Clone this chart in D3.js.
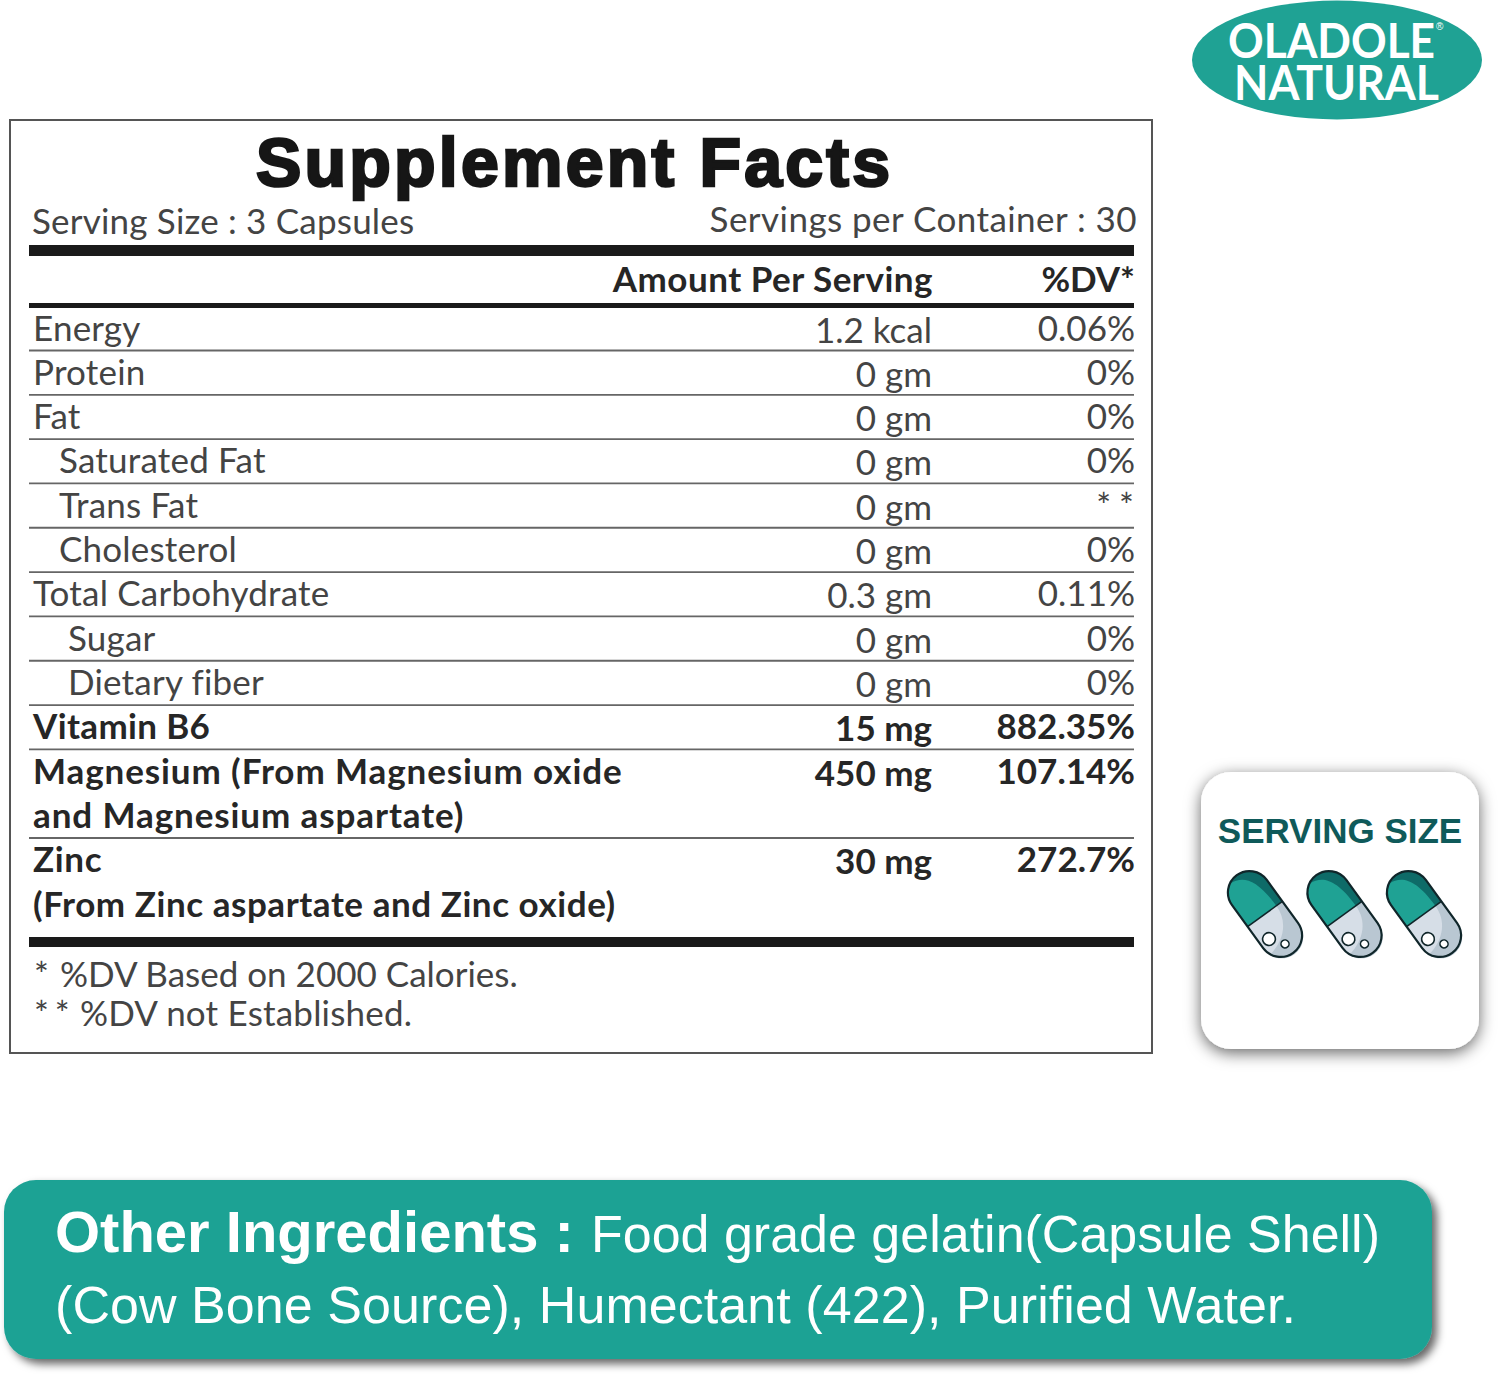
<!DOCTYPE html>
<html>
<head>
<meta charset="utf-8">
<title>Supplement Facts</title>
<script src="https://d3js.org/d3.v7.min.js"></script>
<style>
	html, body { margin: 0; padding: 0; background: #fff; }
	svg { display: block; }
	.label { font-family: Lato, "Open Sans", sans-serif; font-size: 35px; fill: #444; letter-spacing: 0.2px; }
	.strong { font-weight: 700; fill: #262626; letter-spacing: 0.65px; }
	.value { letter-spacing: 0; }
	.arial { font-family: "Liberation Sans", Arial, sans-serif; letter-spacing: 0; }
</style>
</head>
<body>
<div id="chart"></div>
<script>
// table content
var nutrients = ["Energy", "Protein", "Fat", "Saturated Fat", "Trans Fat", "Cholesterol", "Total Carbohydrate", "Sugar", "Dietary fiber", "Vitamin B6", "Magnesium (From Magnesium oxide", "and Magnesium aspartate)", "Zinc", "(From Zinc aspartate and Zinc oxide)"];
var amounts = ["1.2 kcal", "0 gm", "0 gm", "0 gm", "0 gm", "0 gm", "0.3 gm", "0 gm", "0 gm", "15 mg", "450 mg", "", "30 mg", ""];
var dailyValues = ["0.06%", "0%", "0%", "0%", "**", "0%", "0.11%", "0%", "0%", "882.35%", "107.14%", "", "272.7%", ""];
var indents = [0, 0, 0, 1, 1, 1, 0, 2, 2, 0, 0, 0, 0, 0];
var boldFrom = 9;
// a rule is drawn under these lines
var ruledLines = [0, 1, 2, 3, 4, 5, 6, 7, 8, 9, 11];
var footMarks = ["*", "**"];
var footnotes = ["%DV Based on 2000 Calories.", "%DV not Established."];
var capsules = [0, 1, 2];

var teal = "#1fa294";
var width = 1500, height = 1376;

var svg = d3.select("#chart").append("svg")
	.attr("width", width)
	.attr("height", height);

var defs = svg.append("defs");
var addShadow = function(id, dx, dy, blur, opacity) {
	var f = defs.append("filter").attr("id", id)
		.attr("x", "-15%").attr("y", "-15%").attr("width", "130%").attr("height", "130%");
	f.append("feDropShadow")
		.attr("dx", dx).attr("dy", dy)
		.attr("stdDeviation", blur)
		.attr("flood-color", "#000")
		.attr("flood-opacity", opacity);
};
addShadow("cardShadow", 0, 4, 8, 0.6);
addShadow("panelShadow", 5, 5, 4, 0.6);

// line index -> rule position
var lineY = d3.scaleLinear().domain([0, 11]).range([350.5, 838]);
var indentX = d3.scaleLinear().domain([0, 1, 2]).range([33, 59, 68]);

// outer box
svg.append("rect")
	.attr("x", 10).attr("y", 120)
	.attr("width", 1142).attr("height", 933)
	.attr("fill", "#fff")
	.attr("stroke", "#555")
	.attr("stroke-width", 2);

svg.append("text")
	.attr("class", "arial")
	.attr("x", 256).attr("y", 186)
	.attr("textLength", 634)
	.attr("font-size", 68)
	.attr("font-weight", 700)
	.attr("fill", "#161616")
	.attr("stroke", "#161616")
	.attr("stroke-width", 2.6)
	.text("Supplement Facts");

svg.append("text").attr("class", "label")
	.attr("x", 32).attr("y", 234)
	.text("Serving Size : 3 Capsules");
svg.append("text").attr("class", "label")
	.attr("x", 1137).attr("y", 232)
	.attr("text-anchor", "end")
	.style("letter-spacing", "0.45px")
	.text("Servings per Container : 30");

// heavy rules
svg.append("rect").attr("x", 29).attr("y", 245).attr("width", 1105).attr("height", 11).attr("fill", "#1a1a1a");
svg.append("rect").attr("x", 29).attr("y", 303).attr("width", 1105).attr("height", 5).attr("fill", "#1a1a1a");
svg.append("rect").attr("x", 29).attr("y", 937).attr("width", 1105).attr("height", 10).attr("fill", "#1a1a1a");

svg.append("text").attr("class", "label strong")
	.attr("x", 933).attr("y", 292)
	.attr("text-anchor", "end")
	.style("letter-spacing", "0.5px")
	.text("Amount Per Serving");
svg.append("text").attr("class", "label strong value")
	.attr("x", 1135).attr("y", 292)
	.attr("text-anchor", "end")
	.text("%DV*");

svg.selectAll(".rule")
	.data(ruledLines)
	.enter().append("line")
	.attr("class", "rule")
	.attr("x1", 29).attr("x2", 1134)
	.attr("y1", function(d) { return lineY(d); })
	.attr("y2", function(d) { return lineY(d); })
	.attr("stroke", "#666")
	.attr("stroke-width", 1.8);

var rows = svg.selectAll(".row")
	.data(nutrients)
	.enter().append("g")
	.attr("class", "row")
	.attr("transform", function(d, i) { return "translate(0," + (lineY(i) - 10) + ")"; });

var cls = function(d, i) { return i >= boldFrom ? "label strong" : "label"; };
var clsValue = function(d, i) { return cls(d, i) + " value"; };
// the bold names are set a little wider for magnesium than for the others
var nameSpacing = function(d, i) {
	if (i == 10 || i == 11) return "0.9px";
	if (i == 9) return "0.35px";
	if (i == 13) return "0.55px";
	return null;
};

rows.append("text")
	.attr("class", cls)
	.attr("x", function(d, i) { return indentX(indents[i]); })
	.style("letter-spacing", nameSpacing)
	.text(function(d) { return d; });
rows.append("text")
	.attr("class", clsValue)
	.attr("x", 932).attr("y", 2)
	.attr("text-anchor", "end")
	.text(function(d, i) { return amounts[i]; });
rows.append("text")
	.attr("class", clsValue)
	.attr("x", function(d, i) { return dailyValues[i] == "**" ? 1142 : 1135; })
	.attr("text-anchor", "end")
	.style("letter-spacing", function(d, i) { return dailyValues[i] == "**" ? "8px" : null; })
	.text(function(d, i) { return dailyValues[i]; });

var foot = svg.selectAll(".foot")
	.data(footnotes)
	.enter().append("text")
	.attr("class", "label foot")
	.attr("x", 34)
	.attr("y", function(d, i) { return 987 + i * 39; });
foot.append("tspan")
	.style("letter-spacing", "6px")
	.text(function(d, i) { return footMarks[i]; });
foot.append("tspan")
	.attr("x", function(d, i) { return i ? 80 : 60; })
	.style("letter-spacing", function(d, i) { return i ? null : "0"; })
	.text(function(d) { return d; });

// logo
var logo = svg.append("g");
logo.append("ellipse")
	.attr("cx", 1337).attr("cy", 60)
	.attr("rx", 145).attr("ry", 59.5)
	.attr("fill", teal);
logo.append("text")
	.attr("x", 1228).attr("y", 58)
	.attr("textLength", 207)
	.attr("lengthAdjust", "spacingAndGlyphs")
	.attr("font-family", "Lato, sans-serif")
	.attr("font-size", 47).attr("font-weight", 700)
	.attr("fill", "#fff")
	.text("OLADOLE");
logo.append("text")
	.attr("x", 1234).attr("y", 100)
	.attr("textLength", 205)
	.attr("lengthAdjust", "spacingAndGlyphs")
	.attr("font-family", "Lato, sans-serif")
	.attr("font-size", 47).attr("font-weight", 700)
	.attr("fill", "#fff")
	.text("NATURAL");
logo.append("text").attr("class", "arial")
	.attr("x", 1436).attr("y", 30)
	.attr("font-size", 10)
	.attr("fill", "#fff")
	.text("®");

// serving size card
svg.append("rect")
	.attr("x", 1201).attr("y", 772)
	.attr("width", 278).attr("height", 277)
	.attr("rx", 30)
	.attr("fill", "#fff")
	.attr("filter", "url(#cardShadow)");
svg.append("text").attr("class", "arial")
	.attr("x", 1340).attr("y", 843)
	.attr("text-anchor", "middle")
	.attr("font-size", 35).attr("font-weight", 700)
	.attr("fill", "#0f5a5a")
	.text("SERVING SIZE");

var capsuleX = d3.scaleLinear().domain([0, 2]).range([1265, 1424]);
var drawCapsule = function(g) {
	var r = 21.5, h = 26.5;
	// grey half
	g.append("path")
		.attr("d", "M" + (-r) + ",0 L" + (-r) + "," + h + " A" + r + "," + r + " 0 0 0 " + r + "," + h + " L" + r + ",0 Z")
		.attr("fill", "#d6dee7");
	g.append("path")
		.attr("d", "M14,0 C14,18 2,32 -20,36 A" + r + "," + r + " 0 0 0 " + r + "," + h + " L" + r + ",0 Z")
		.attr("fill", "#b9c7d2");
	// teal half
	g.append("path")
		.attr("d", "M" + (-r) + ",0 L" + (-r) + "," + (-h) + " A" + r + "," + r + " 0 0 1 " + r + "," + (-h) + " L" + r + ",0 Z")
		.attr("fill", teal);
	g.append("path")
		.attr("d", "M-10,-45 C4,-44 14,-34 14,0 L" + r + ",0 L" + r + "," + (-h) + " A" + r + "," + r + " 0 0 0 -10,-45 Z")
		.attr("fill", "#0e6b68");
	// outline and joint
	g.append("rect")
		.attr("x", -r).attr("y", -h - r)
		.attr("width", 2 * r).attr("height", 2 * h + 2 * r)
		.attr("rx", r)
		.attr("fill", "none")
		.attr("stroke", "#10262a")
		.attr("stroke-width", 2.2);
	g.append("line")
		.attr("x1", -r).attr("x2", r)
		.attr("stroke", "#10262a").attr("stroke-width", 1.6);
	g.append("circle").attr("cx", -11.5).attr("cy", 22.6).attr("r", 6.4)
		.attr("fill", "#fff").attr("stroke", "#10262a").attr("stroke-width", 1.6);
	g.append("circle").attr("cx", -1.4).attr("cy", 36).attr("r", 4)
		.attr("fill", "#fff").attr("stroke", "#10262a").attr("stroke-width", 1.6);
};
svg.selectAll(".capsule")
	.data(capsules)
	.enter().append("g")
	.attr("class", "capsule")
	.attr("transform", function(d) { return "translate(" + capsuleX(d) + ",914) rotate(-36)"; })
	.each(function() { drawCapsule(d3.select(this)); });

// other ingredients panel
svg.append("rect")
	.attr("x", 4).attr("y", 1180)
	.attr("width", 1428).attr("height", 179)
	.attr("rx", 32)
	.attr("fill", teal)
	.attr("filter", "url(#panelShadow)");
svg.append("text").attr("class", "arial")
	.attr("x", 55).attr("y", 1252)
	.attr("font-size", 58).attr("font-weight", 700)
	.attr("fill", "#fff")
	.text("Other Ingredients :");
svg.append("text").attr("class", "arial")
	.attr("x", 591).attr("y", 1252)
	.attr("textLength", 789)
	.attr("font-size", 52)
	.attr("fill", "#fff")
	.text("Food grade gelatin(Capsule Shell)");
svg.append("text").attr("class", "arial")
	.attr("x", 55).attr("y", 1323)
	.attr("textLength", 1241)
	.attr("font-size", 52)
	.attr("fill", "#fff")
	.text("(Cow Bone Source), Humectant (422), Purified Water.");
</script>
</body>
</html>
